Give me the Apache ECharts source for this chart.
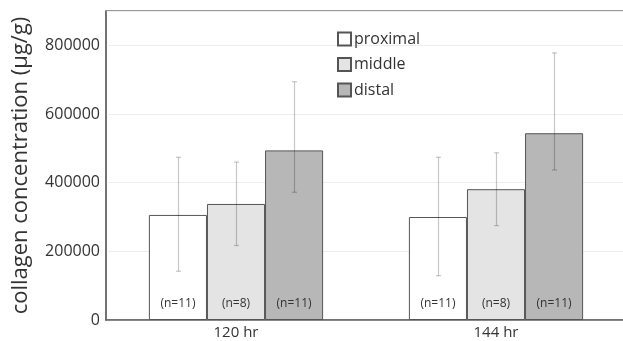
<!DOCTYPE html>
<html><head><meta charset="utf-8">
<script src="https://cdn.jsdelivr.net/npm/echarts@6/dist/echarts.min.js"></script>
<style>html,body{margin:0;padding:0;background:#fff}#c{width:623px;height:341px}</style>
</head><body><div id="c"></div>
<script>
const categories = ['120 hr', '144 hr'];
const seriesNames = ['proximal', 'middle', 'distal'];
const proximal = [306000, 300000];
const middle = [338000, 381000];
const distal = [494000, 544000];
const proximalErr = [[142000, 474000], [129000, 474000]];
const middleErr = [[217000, 460000], [275000, 487000]];
const distalErr = [[372000, 694000], [437000, 778000]];
const nLabels = [['(n=11)', '(n=11)'], ['(n=8)', '(n=8)'], ['(n=11)', '(n=11)']];
const yTicks = [0, 200000, 400000, 600000, 800000];

const values = [proximal, middle, distal];
const errs = [proximalErr, middleErr, distalErr];
const colors = ['#ffffff', '#e4e4e4', '#b7b7b7'];
const catGap = 0.33;
const FONT = '"Open Sans", sans-serif';

const chart = echarts.init(document.getElementById('c'));
const series = [];
seriesNames.forEach((name, si) => {
  series.push({
    name, type: 'bar', data: values[si],
    barGap: '0%', barCategoryGap: (catGap * 100) + '%',
    itemStyle: { color: colors[si], borderColor: '#555', borderWidth: 1 },
    label: {
      show: true, position: 'insideBottom', distance: 10,
      formatter: p => nLabels[si][p.dataIndex],
      fontFamily: FONT, fontSize: 12, color: '#333'
    },
    emphasis: { disabled: true }
  });
});
seriesNames.forEach((name, si) => {
  series.push({
    type: 'custom', name: name + '_err', silent: true, z: 5,
    data: errs[si].map((e, i) => [i, e[0], e[1]]),
    renderItem: (params, api) => {
      const ci = api.value(0);
      const band = api.size([1, 0])[0];
      const bw = band * (1 - catGap) / 3;
      const c0 = api.coord([ci, 0]);
      const x = Math.round(c0[0] - 1.5 * bw + (si + 0.5) * bw) + 0.5;
      const lo = api.coord([ci, api.value(1)])[1];
      const hi = api.coord([ci, api.value(2)])[1];
      const st = { stroke: 'rgba(0,0,0,0.22)', lineWidth: 1.2 };
      return { type: 'group', children: [
        { type: 'line', shape: { x1: x, y1: lo, x2: x, y2: hi }, style: st },
        { type: 'line', shape: { x1: x - 2.5, y1: lo, x2: x + 2.5, y2: lo }, style: st },
        { type: 'line', shape: { x1: x - 2.5, y1: hi, x2: x + 2.5, y2: hi }, style: st }
      ]};
    }
  });
});

chart.setOption({
  animation: false,
  grid: { left: 106, width: 520, top: 11, bottom: 21, show: true, borderColor: '#777', borderWidth: 1.5,
    backgroundColor: 'transparent', outerBoundsMode: 'none', containLabel: false },
  legend: {
    data: seriesNames, orient: 'vertical', left: 332, top: 26, itemGap: 9.5,
    icon: 'rect', itemWidth: 13, itemHeight: 13,
    textStyle: { fontFamily: FONT, fontSize: 16, color: '#333', padding: [0, 0, 0, -2] }
  },
  xAxis: {
    type: 'category', data: categories,
    axisLine: { lineStyle: { color: '#666', width: 1.5 } },
    axisTick: { show: false },
    axisLabel: { fontFamily: FONT, fontSize: 15, color: '#333', margin: 5 }
  },
  yAxis: {
    type: 'value', min: 0, max: 900000, interval: 200000,
    name: 'collagen concentration (μg/g)', nameLocation: 'middle', nameGap: 74,
    nameTextStyle: { fontFamily: FONT, fontSize: 22, color: '#333' },
    axisLine: { show: true, lineStyle: { color: '#666', width: 1.5 } },
    axisTick: { show: false },
    axisLabel: { fontFamily: FONT, fontSize: 16, color: '#333', margin: 6,
      formatter: v => yTicks.includes(v) ? String(v) : '' },
    splitLine: { lineStyle: { color: '#eeeeee' } }
  },
  series
});
</script></body></html>
